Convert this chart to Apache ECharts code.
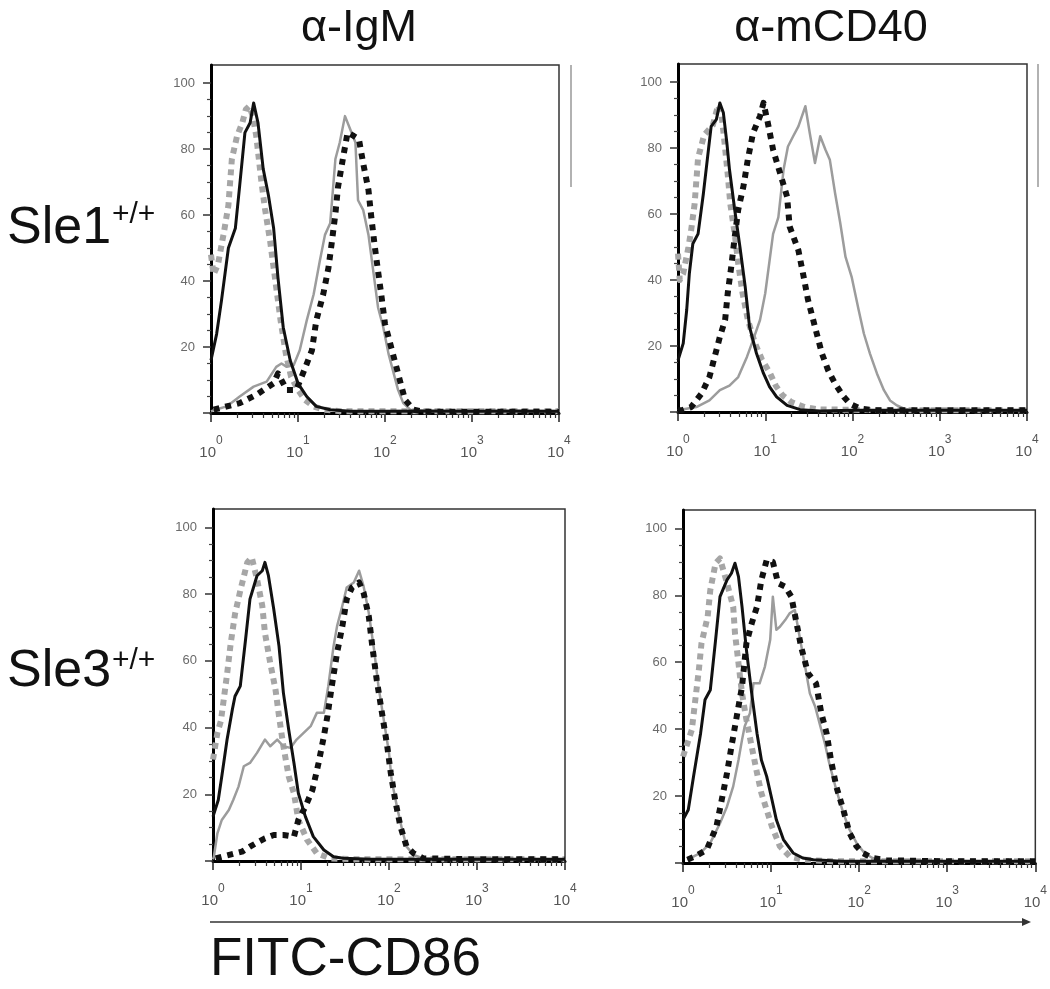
<!DOCTYPE html>
<html><head><meta charset="utf-8">
<script src="https://cdn.jsdelivr.net/npm/echarts@6/dist/echarts.min.js"></script>
<style>html,body{margin:0;padding:0;background:#fff}#c{width:1050px;height:989px}</style>
</head><body><div id="c"></div>
<script>
// ---------- text ----------
const colTitles = ['α-IgM', 'α-mCD40'];
const rowLabels = ['Sle1', 'Sle3'];
const rowSup = '+/+';
const xTitle = 'FITC-CD86';
// ---------- axes (x in log10 decades) ----------
const decadeExponents = [0, 1, 2, 3, 4];
const minorFactors = [2, 3, 4, 5, 6, 7, 8, 9];
const yTickValues = [0, 20, 40, 60, 80, 100];
const yLabelValues = [20, 40, 60, 80, 100];
const yMinorValues = [5, 10, 15, 25, 30, 35, 45, 50, 55, 65, 70, 75, 85, 90, 95];

// ---------- Panel 1: α-IgM, Sle1 ----------
const p1GreyDashX = [0, 0.03, 0.08, 0.15, 0.2, 0.22, 0.24, 0.3, 0.36, 0.4, 0.44, 0.48, 0.52, 0.55, 0.58, 0.62, 0.68, 0.74, 0.8, 0.86, 0.92, 1.0, 1.08, 1.18, 1.3, 1.5, 2.0, 3.0, 4.0];
const p1GreyDashY = [48, 42, 45, 55, 63, 70, 77, 84, 88, 92, 93, 90, 84, 77, 70, 62, 52, 40, 28, 18, 11, 7, 4, 2, 1, 0.5, 0.5, 0.5, 0.5];
const p1GreySolidX = [0, 0.05, 0.18, 0.33, 0.49, 0.64, 0.75, 0.81, 0.87, 0.95, 1.02, 1.1, 1.18, 1.25, 1.31, 1.37, 1.43, 1.48, 1.54, 1.6, 1.66, 1.69, 1.75, 1.81, 1.87, 1.92, 1.98, 2.04, 2.1, 2.15, 2.21, 2.29, 2.5, 3.0, 3.5, 4.0];
const p1GreySolidY = [0.5, 1, 2, 5, 8, 9.5, 14, 15, 14, 14.5, 19, 28, 36, 46, 54, 57.5, 77, 82, 90, 86, 82, 64.5, 61.5, 54, 42, 32, 26, 18, 12, 7, 3, 1, 0.5, 0.5, 0.5, 0.5];
const p1BlackDashX = [0.03, 0.33, 0.52, 0.72, 0.77, 0.87, 0.98, 1.08, 1.16, 1.21, 1.29, 1.35, 1.39, 1.43, 1.46, 1.52, 1.57, 1.64, 1.7, 1.75, 1.81, 1.84, 1.88, 1.92, 1.96, 2.0, 2.08, 2.15, 2.23, 2.33, 2.44, 3.0, 4.0];
const p1BlackDashY = [1, 3, 5.5, 9, 12, 7, 7, 13.5, 19, 28, 36, 44, 52, 60.5, 68.5, 77.7, 85, 84, 83, 75.6, 67.6, 60, 51, 43, 35.3, 27, 19, 12, 4, 1, 0.4, 0.4, 0.4];
const p1BlackX = [0, 0.065, 0.12, 0.2, 0.28, 0.33, 0.39, 0.45, 0.49, 0.54, 0.6, 0.66, 0.72, 0.77, 0.83, 0.91, 1.0, 1.1, 1.21, 1.37, 1.6, 2.0, 2.5, 3.0, 3.5, 4.0];
const p1BlackY = [16, 24, 34, 50, 56, 69, 85, 88, 94, 88, 74, 66, 56, 41, 26, 16, 9, 5, 2, 1, 0.5, 0.5, 0.6, 0.5, 0.6, 0.5];

// ---------- Panel 2: α-mCD40, Sle1 ----------
const p2GreyDashX = [0, 0.02, 0.06, 0.12, 0.15, 0.19, 0.21, 0.23, 0.3, 0.4, 0.46, 0.5, 0.54, 0.57, 0.6, 0.65, 0.69, 0.74, 0.8, 0.88, 0.96, 1.05, 1.12, 1.2, 1.3, 1.45, 1.6, 2.5, 4.0];
const p2GreyDashY = [48, 40, 42, 50, 55, 63, 70, 77, 84, 87, 93, 90, 80, 72, 63, 54, 45, 36, 28, 21, 16, 12, 8, 5, 3, 1.5, 0.8, 0.5, 0.5];
const p2GreySolidX = [0, 0.21, 0.36, 0.48, 0.59, 0.69, 0.79, 0.86, 0.94, 1.0, 1.05, 1.09, 1.15, 1.21, 1.26, 1.32, 1.38, 1.46, 1.51, 1.57, 1.63, 1.69, 1.74, 1.8, 1.86, 1.92, 1.99, 2.07, 2.13, 2.2, 2.28, 2.36, 2.43, 2.51, 2.59, 2.7, 3.0, 3.5, 4.0];
const p2GreySolidY = [0.5, 1.5, 3.5, 6.6, 8, 10.6, 16.7, 21.8, 27.9, 36, 46, 54, 59, 73.5, 80.5, 83.6, 86.6, 92.7, 84.6, 75.5, 83.6, 79.5, 76.5, 66.4, 57.2, 47, 41, 31, 23.8, 17.7, 11.7, 6.6, 3.5, 2, 1, 0.5, 0.5, 0.5, 0.5];
const p2BlackDashX = [0, 0.04, 0.15, 0.27, 0.36, 0.42, 0.48, 0.54, 0.57, 0.61, 0.65, 0.69, 0.75, 0.8, 0.86, 0.94, 0.98, 1.03, 1.09, 1.17, 1.25, 1.28, 1.38, 1.44, 1.49, 1.57, 1.65, 1.72, 1.8, 1.9, 1.97, 2.09, 2.24, 3.0, 4.0];
const p2BlackDashY = [0.5, 0.5, 1.5, 5.6, 10.6, 16.7, 22.8, 27.9, 36, 44, 53, 61.3, 68.4, 76.5, 84.6, 89.7, 93.7, 87.6, 79.5, 72.4, 65.3, 56.2, 49, 41, 34, 25.8, 17.7, 12.7, 8.6, 4.6, 2.5, 1, 0.5, 0.5, 0.5];
const p2BlackX = [0, 0.06, 0.1, 0.13, 0.17, 0.23, 0.29, 0.34, 0.38, 0.44, 0.48, 0.52, 0.56, 0.59, 0.65, 0.71, 0.77, 0.82, 0.9, 0.98, 1.05, 1.13, 1.25, 1.4, 1.63, 2.0, 3.0, 4.0];
const p2BlackY = [15.7, 20.8, 31, 42, 51, 54, 66, 77.5, 86.6, 88.7, 93.7, 90.7, 81.6, 73.5, 61.3, 50, 38, 25.8, 17.7, 11.7, 7.6, 4.6, 2, 0.7, 0.3, 0.5, 0.5, 0.5];

// ---------- Panel 3: α-IgM, Sle3 ----------
const p3GreyDashX = [0, 0.05, 0.09, 0.12, 0.16, 0.2, 0.25, 0.31, 0.39, 0.44, 0.5, 0.56, 0.59, 0.65, 0.71, 0.75, 0.8, 0.86, 0.92, 0.97, 1.07, 1.18, 1.33, 1.6, 4.0];
const p3GreyDashY = [30.4, 38.4, 42, 48, 56, 65, 74, 81, 89.5, 91, 84.5, 76.5, 68.4, 59.4, 51.4, 43.4, 34.4, 25.4, 20.3, 12.3, 6.3, 2.3, 0.8, 0.5, 0.5];
const p3GreySolidX = [0, 0.01, 0.05, 0.1, 0.18, 0.23, 0.29, 0.35, 0.42, 0.5, 0.59, 0.65, 0.73, 0.8, 0.88, 0.95, 1.03, 1.11, 1.18, 1.26, 1.31, 1.37, 1.41, 1.47, 1.52, 1.6, 1.66, 1.71, 1.77, 1.83, 1.88, 1.94, 2.0, 2.03, 2.09, 2.15, 2.2, 2.28, 2.39, 3.0, 4.0];
const p3GreySolidY = [0.5, 1.3, 8.3, 12.3, 15.3, 18.3, 22.3, 28.4, 29.4, 32.4, 36.4, 34.4, 36.4, 34.4, 33.9, 36.4, 38.4, 40.4, 44.4, 44.4, 52.4, 64.4, 70.4, 76.5, 82, 83.5, 87, 82.5, 74.4, 63.4, 52.4, 42.4, 32.4, 24.3, 16.3, 9.3, 4.3, 1.8, 0.8, 0.5, 0.5];
const p3BlackDashX = [0.03, 0.33, 0.42, 0.52, 0.59, 0.69, 0.8, 0.92, 0.97, 1.05, 1.13, 1.2, 1.26, 1.3, 1.35, 1.41, 1.47, 1.52, 1.58, 1.66, 1.71, 1.77, 1.81, 1.86, 1.92, 1.98, 2.02, 2.07, 2.13, 2.2, 2.28, 2.39, 3.0, 4.0];
const p3BlackDashY = [0.8, 2.8, 4.3, 5.8, 6.8, 7.8, 7.8, 7.3, 12.3, 16.3, 21.3, 29.4, 37.4, 43.4, 52.4, 62.4, 70.4, 78.5, 82, 83.5, 80.5, 73.4, 64.4, 54.4, 44.4, 34.4, 26.4, 18.3, 10.3, 4.3, 2.3, 0.8, 0.5, 0.5];
const p3BlackX = [0, 0.06, 0.1, 0.16, 0.22, 0.25, 0.31, 0.37, 0.42, 0.5, 0.56, 0.59, 0.63, 0.69, 0.75, 0.8, 0.86, 0.92, 0.97, 1.05, 1.14, 1.26, 1.37, 1.48, 1.8, 2.5, 3.0, 4.0];
const p3BlackY = [13.3, 18.3, 25.4, 36.4, 45.4, 49.4, 52.4, 66.4, 78.5, 85.5, 87, 89.5, 85.5, 75.5, 64.4, 50.4, 39.4, 29.4, 20.3, 13.3, 7.3, 3.3, 1.3, 0.8, 0.5, 0.5, 0.5, 0.5];

// ---------- Panel 4: α-mCD40, Sle3 ----------
const p4GreyDashX = [0, 0.05, 0.1, 0.14, 0.18, 0.21, 0.28, 0.31, 0.37, 0.42, 0.5, 0.57, 0.59, 0.63, 0.67, 0.72, 0.78, 0.84, 0.89, 0.95, 1.01, 1.1, 1.21, 1.36, 1.7, 4.0];
const p4GreyDashY = [31.8, 35.8, 39.8, 48.8, 57.7, 65.7, 73.6, 81.6, 89.6, 91, 83.6, 76.6, 68.7, 59.7, 50.7, 42.8, 34.8, 26.9, 20.9, 15.9, 10.9, 5, 2, 1, 0.5, 0.5];
const p4GreySolidX = [0.05, 0.2, 0.31, 0.42, 0.5, 0.57, 0.63, 0.67, 0.7, 0.76, 0.8, 0.87, 0.93, 0.99, 1.02, 1.06, 1.1, 1.16, 1.21, 1.27, 1.33, 1.38, 1.44, 1.5, 1.55, 1.61, 1.66, 1.74, 1.82, 1.89, 1.97, 2.06, 2.15, 2.27, 3.0, 4.0];
const p4GreySolidY = [1, 3, 6, 11.9, 16.9, 22.9, 30.8, 36.8, 40.8, 44.8, 53.7, 53.7, 58.7, 66.7, 79.6, 69.7, 70.6, 72.6, 74.6, 75.6, 66.7, 59.7, 50.7, 46.8, 41.8, 35.8, 29.9, 21.9, 14.9, 10, 6, 3, 1.5, 0.8, 0.5, 0.5];
const p4BlackDashX = [0.05, 0.14, 0.27, 0.38, 0.44, 0.5, 0.55, 0.61, 0.67, 0.72, 0.78, 0.84, 0.89, 0.95, 1.02, 1.08, 1.16, 1.23, 1.29, 1.34, 1.42, 1.51, 1.57, 1.63, 1.68, 1.74, 1.82, 1.89, 1.97, 2.04, 2.15, 2.31, 3.0, 4.0];
const p4BlackDashY = [1, 2, 4, 10.9, 18.9, 26.9, 34.8, 43.8, 52.7, 65.7, 71.6, 76.6, 84.6, 90.5, 90, 83.6, 82.6, 79.6, 71.6, 64.7, 56.7, 53.7, 44.8, 38.8, 30.8, 22.9, 15.9, 9, 5, 3, 1.5, 0.8, 0.5, 0.5];
const p4BlackX = [0, 0.06, 0.12, 0.2, 0.25, 0.31, 0.37, 0.42, 0.5, 0.55, 0.59, 0.63, 0.67, 0.72, 0.78, 0.84, 0.89, 0.95, 1.01, 1.06, 1.14, 1.25, 1.36, 1.48, 1.8, 2.5, 3.0, 4.0];
const p4BlackY = [12.9, 15.9, 25.9, 38.8, 48.8, 51.7, 66.7, 79.6, 84.6, 86.6, 89.6, 85.6, 76.6, 63.7, 50.7, 38.8, 30.8, 25.9, 18.9, 12.9, 7, 3, 1.5, 1, 0.5, 0.5, 0.5, 0.5];

// ---------- build ----------
const FONT = 'Liberation Sans, Arial, sans-serif';
const panels = [
  { box: { left: 211, top: 65, width: 348, height: 348 }, curves: [[p1GreyDashX, p1GreyDashY], [p1GreySolidX, p1GreySolidY], [p1BlackDashX, p1BlackDashY], [p1BlackX, p1BlackY]] },
  { box: { left: 678, top: 64, width: 349, height: 348 }, curves: [[p2GreyDashX, p2GreyDashY], [p2GreySolidX, p2GreySolidY], [p2BlackDashX, p2BlackDashY], [p2BlackX, p2BlackY]] },
  { box: { left: 213, top: 509, width: 352, height: 352 }, curves: [[p3GreyDashX, p3GreyDashY], [p3GreySolidX, p3GreySolidY], [p3BlackDashX, p3BlackDashY], [p3BlackX, p3BlackY]] },
  { box: { left: 683, top: 510, width: 354, height: 353 }, curves: [[p4GreyDashX, p4GreyDashY], [p4GreySolidX, p4GreySolidY], [p4BlackDashX, p4BlackDashY], [p4BlackX, p4BlackY]] }
];
const curveStyles = [
  { color: '#a6a6a6', width: 6, type: [6, 5] },
  { color: '#9c9c9c', width: 2.5, type: 'solid' },
  { color: '#111', width: 6, type: [6, 6] },
  { color: '#111', width: 3, type: 'solid' }
];
const minorXValues = [];
for (let d = 0; d < 4; d++) minorFactors.forEach(f => minorXValues.push(d + Math.log10(f)));

const grid = [], xAxis = [], yAxis = [], series = [];
panels.forEach((p, i) => {
  grid.push(Object.assign({ show: true, borderColor: '#333', borderWidth: 1.5, containLabel: false }, p.box));
  xAxis.push({
    gridIndex: i, type: 'value', min: 0, max: 4, interval: 1, position: 'bottom',
    axisLine: { show: true, onZero: false, lineStyle: { color: '#000', width: 3 } },
    axisTick: { show: true, length: 9, lineStyle: { color: '#222', width: 1.5 } },
    axisLabel: {
      show: true, margin: 22, align: 'center',
      formatter: v => '{b|10}{s|' + decadeExponents[Math.round(v)] + '}',
      rich: {
        b: { fontSize: 15, color: '#555', fontFamily: FONT, padding: [10, 0, 0, 0] },
        s: { fontSize: 12, color: '#555', fontFamily: FONT, verticalAlign: 'top' }
      }
    },
    splitLine: { show: false }
  });
  xAxis.push({
    gridIndex: i, type: 'value', min: 0, max: 4, position: 'bottom',
    axisLine: { show: false, onZero: false },
    axisTick: { show: true, length: 5, customValues: minorXValues, lineStyle: { color: '#333', width: 1.2 } },
    axisLabel: { show: false }, splitLine: { show: false }
  });
  yAxis.push({
    gridIndex: i, type: 'value', min: 0, max: 105.5, position: 'left',
    axisLine: { show: true, onZero: false, lineStyle: { color: '#000', width: 3 } },
    axisTick: { show: true, length: 8, customValues: yTickValues, lineStyle: { color: '#333', width: 1.5 } },
    axisLabel: { show: true, customValues: yLabelValues, margin: 16, fontSize: 13, color: '#6a6a6a', fontFamily: FONT },
    splitLine: { show: false }
  });
  yAxis.push({
    gridIndex: i, type: 'value', min: 0, max: 105.5, position: 'left',
    axisLine: { show: false, onZero: false },
    axisTick: { show: true, length: 4, customValues: yMinorValues, lineStyle: { color: '#444', width: 1.2 } },
    axisLabel: { show: false }, splitLine: { show: false }
  });
  p.curves.forEach((c, k) => {
    const st = curveStyles[k];
    series.push({
      type: 'line', xAxisIndex: 2 * i, yAxisIndex: 2 * i,
      data: c[0].map((x, j) => [x, c[1][j]]),
      showSymbol: false, symbol: 'none', silent: true, z: 2 + k,
      lineStyle: { color: st.color, width: st.width, type: st.type, cap: 'butt', join: 'round' }
    });
  });
});

const graphic = [
  { type: 'text', style: { text: colTitles[0], x: 359, y: 29, fontSize: 45, fontFamily: FONT, fill: '#111', textAlign: 'center', textVerticalAlign: 'middle' } },
  { type: 'text', style: { text: colTitles[1], x: 831, y: 29, fontSize: 45, fontFamily: FONT, fill: '#111', textAlign: 'center', textVerticalAlign: 'middle' } },
  { type: 'text', style: { text: rowLabels[0], x: 7, y: 229, fontSize: 52, fontFamily: FONT, fill: '#111', textAlign: 'left', textVerticalAlign: 'middle' } },
  { type: 'text', style: { text: rowSup, x: 112, y: 215, fontSize: 30, fontFamily: FONT, fill: '#111', textAlign: 'left', textVerticalAlign: 'middle' } },
  { type: 'text', style: { text: rowLabels[1], x: 7, y: 672, fontSize: 52, fontFamily: FONT, fill: '#111', textAlign: 'left', textVerticalAlign: 'middle' } },
  { type: 'text', style: { text: rowSup, x: 112, y: 661, fontSize: 30, fontFamily: FONT, fill: '#111', textAlign: 'left', textVerticalAlign: 'middle' } },
  { type: 'text', style: { text: xTitle, x: 210, y: 960, fontSize: 53, fontFamily: FONT, fill: '#111', textAlign: 'left', textVerticalAlign: 'middle' } },
  { type: 'line', shape: { x1: 210, y1: 922, x2: 1026, y2: 922 }, style: { stroke: '#666', lineWidth: 2 } },
  { type: 'polygon', shape: { points: [[1022, 918], [1031, 922], [1022, 926]] }, style: { fill: '#333' } },
  { type: 'line', shape: { x1: 571, y1: 65, x2: 571, y2: 187 }, style: { stroke: '#999', lineWidth: 1.5 } },
  { type: 'line', shape: { x1: 1038, y1: 64, x2: 1038, y2: 187 }, style: { stroke: '#999', lineWidth: 1.5 } }
];

const chart = echarts.init(document.getElementById('c'), null, { renderer: 'canvas' });
chart.setOption({ animation: false, backgroundColor: '#fff', grid, xAxis, yAxis, series, graphic });
</script>
</body></html>
